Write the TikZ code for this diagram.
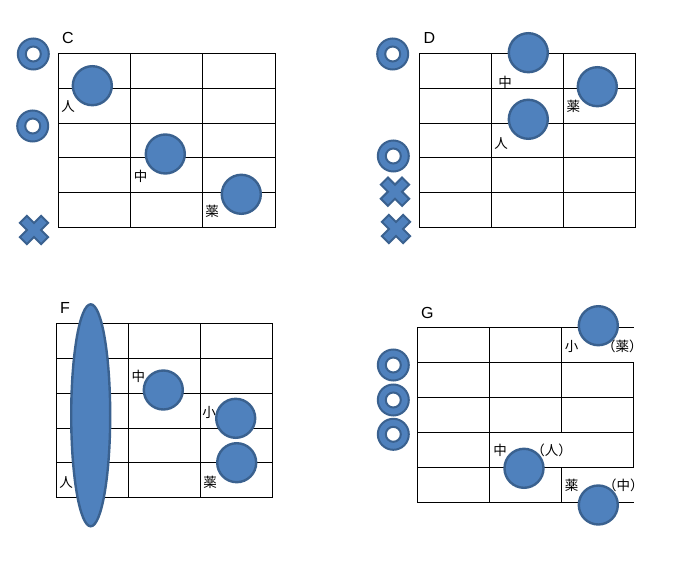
\documentclass[tikz,border=0pt]{standalone}
\usepackage{fontspec}
\usetikzlibrary{shapes.geometric}
\setmainfont{Liberation Sans}
\newfontfamily\jp{Noto Sans CJK JP}
\definecolor{bfill}{HTML}{4F81BD}
\definecolor{bdraw}{HTML}{3A618F}
\begin{document}
\begin{tikzpicture}[x=1pt,y=-1pt,
  gridline/.style={line width=1pt, black},
  dot/.style={circle, fill=bfill, draw=bdraw, line width=2.4pt, minimum size=39pt, inner sep=0pt},
  ringo/.style={circle, fill=bfill, draw=bdraw, line width=2pt, minimum size=31pt, inner sep=0pt},
  ringi/.style={circle, fill=white, draw=bdraw, line width=2pt, minimum size=15pt, inner sep=0pt},
  lab/.style={font=\jp\fontsize{13.5}{14}\selectfont, inner sep=0pt},
  ttl/.style={font=\fontsize{16}{16}\selectfont, inner sep=0pt},
  xm/.pic={\path[fill=bfill, draw=bdraw, line width=2pt, rotate=45]
     (-5,15)--(5,15)--(5,5)--(15,5)--(15,-5)--(5,-5)--(5,-15)--(-5,-15)--(-5,-5)--(-15,-5)--(-15,5)--(-5,5)--cycle;}
  ]
\useasboundingbox (0,0) rectangle (678,567);
\fill[white] (0,0) rectangle (678,567);

% ---------- Panel C ----------
\foreach \x in {58.3,130.5,202.7,275} \draw[gridline] (\x,53.3)--(\x,227.8);
\foreach \y in {53.3,88.2,123.1,158,192.9,227.8} \draw[gridline] (58.3,\y)--(275,\y);
\node[ttl] (tC) at (68,38) {C};
\node[lab] (lC1) at (68,107) {人};
\node[lab] (lC2) at (140.7,176.7) {中};
\node[lab] (lC3) at (212,211.7) {薬};
\node[dot] (dC1) at (92.3,85.7) {};
\node[dot] (dC2) at (165.3,154) {};
\node[dot] (dC3) at (241.3,194.3) {};
\node[ringo] (rC1o) at (33.3,54) {}; \node[ringi] (rC1i) at (33.3,54) {};
\node[ringo] (rC2o) at (32.7,126) {}; \node[ringi] (rC2i) at (32.7,126) {};
\pic at (34,230) {xm};

% ---------- Panel D ----------
\foreach \x in {419.3,491.5,563.7,635.9} \draw[gridline] (\x,53.3)--(\x,227.8);
\foreach \y in {53.3,88.2,123.1,158,192.9,227.8} \draw[gridline] (419.3,\y)--(635.9,\y);
\node[ttl] (tD) at (429.3,38.3) {D};
\node[lab] (lD1) at (505,82.3) {中};
\node[lab] (lD2) at (573.3,106.7) {薬};
\node[lab] (lD3) at (501,143.3) {人};
\node[dot] (dD1) at (528.3,52.7) {};
\node[dot] (dD2) at (597.3,86.7) {};
\node[dot] (dD3) at (528.3,119.3) {};
\node[ringo] (rD1o) at (392.7,54) {}; \node[ringi] (rD1i) at (392.7,54) {};
\node[ringo] (rD2o) at (393.3,156) {}; \node[ringi] (rD2i) at (393.3,156) {};
\pic at (395,191.7) {xm};
\pic at (396,229) {xm};

% ---------- Panel F ----------
\foreach \x in {56,128.2,200.4,272.6} \draw[gridline] (\x,323.3)--(\x,497.8);
\foreach \y in {323.3,358.2,393.1,428,462.9,497.8} \draw[gridline] (56,\y)--(272.6,\y);
\node[ttl] (tF) at (65,308.3) {F};
\node[lab] (lF1) at (138.3,376.7) {中};
\node[lab] (lF2) at (209,412.3) {小};
\node[lab] (lF3) at (210,482.3) {薬};
\node[lab] (lF4) at (66,482.3) {人};
\node[ellipse, fill=bfill, draw=bdraw, line width=2.4pt, minimum width=39pt, minimum height=222pt, inner sep=0pt] (eF) at (90.7,415.3) {};
\node[dot] (dF1) at (163.3,390) {};
\node[dot] (dF2) at (235.7,418.3) {};
\node[dot] (dF3) at (236.7,462.7) {};

% ---------- Panel G ----------
\foreach \y in {327.3,362.3,397.3,432.3,467.3,502.3} \draw[gridline] (417.3,\y)--(633.9,\y);
\draw[gridline] (417.3,327.3)--(417.3,502.3);
\draw[gridline] (489.5,327.3)--(489.5,502.3);
\draw[gridline] (561.7,327.3)--(561.7,432.3);
\draw[gridline] (561.7,467.3)--(561.7,502.3);
\draw[gridline] (633.9,362.3)--(633.9,467.3);
\node[ttl] (tG) at (427.3,313.3) {G};
\node[lab] (lG1) at (571.7,346.7) {小};
\node[lab] (lG2) at (622.3,346.7) {（薬）};
\node[lab] (lG3) at (500,450) {中};
\node[lab] (lG4) at (551.7,450) {（人）};
\node[lab] (lG5) at (571.7,485) {薬};
\node[lab] (lG6) at (623.3,485) {（中）};
\node[dot] (dG1) at (598.3,325.7) {};
\node[dot] (dG2) at (524,468.3) {};
\node[dot] (dG3) at (598.3,505) {};
\node[ringo] (rG1o) at (393.3,365) {}; \node[ringi] (rG1i) at (393.3,365) {};
\node[ringo] (rG2o) at (393.3,400) {}; \node[ringi] (rG2i) at (393.3,400) {};
\node[ringo] (rG3o) at (393.3,434.3) {}; \node[ringi] (rG3i) at (393.3,434.3) {};
\end{tikzpicture}
\end{document}
